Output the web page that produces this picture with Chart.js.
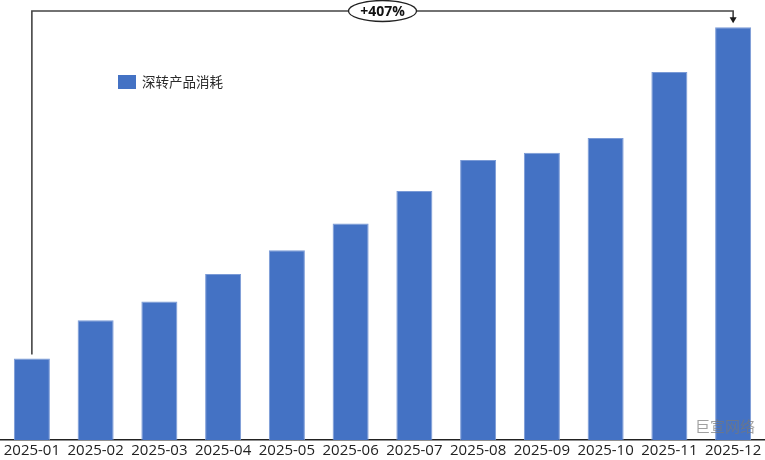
<!DOCTYPE html>
<html>
<head>
<meta charset="utf-8">
<script src="https://cdn.jsdelivr.net/npm/chart.js@4.4.1/dist/chart.umd.min.js"></script>
<style>
  html, body { margin: 0; padding: 0; background: #ffffff; }
  #wrap { width: 765px; height: 460px; position: relative; }
</style>
</head>
<body>
<div id="wrap"><canvas id="c" width="765" height="460"></canvas></div>
<script>
const categories = ['2025-01','2025-02','2025-03','2025-04','2025-05','2025-06','2025-07','2025-08','2025-09','2025-10','2025-11','2025-12'];
const seriesName = '深转产品消耗';
const seriesValues = [100, 147, 170, 204, 233, 266, 306, 344, 353, 371, 452, 507];
const growthLabel = '+407%';
const watermarkText = '巨宣网络';

const annotationPlugin = {
  id: 'annot',
  afterDatasetsDraw(chart) {
    const ctx = chart.ctx;
    const xs = chart.scales.x, ys = chart.scales.y;
    const n = seriesValues.length;
    const x0 = xs.getPixelForValue(0);
    const x1 = xs.getPixelForValue(n - 1);
    const y0 = ys.getPixelForValue(seriesValues[0]);
    const y1 = ys.getPixelForValue(seriesValues[n - 1]);
    const topY = 11;
    ctx.save();
    ctx.strokeStyle = '#444';
    ctx.lineWidth = 1.6;
    ctx.beginPath();
    ctx.moveTo(x0, y0 - 4);
    ctx.lineTo(x0, topY);
    ctx.lineTo(x1, topY);
    ctx.lineTo(x1, y1 - 7);
    ctx.stroke();
    // arrow head
    ctx.fillStyle = '#1a1a1a';
    ctx.beginPath();
    ctx.moveTo(x1 - 3.5, y1 - 10);
    ctx.lineTo(x1 + 3.5, y1 - 10);
    ctx.lineTo(x1, y1 - 4);
    ctx.closePath();
    ctx.fill();
    // label ellipse
    const cx = (x0 + x1) / 2;
    ctx.fillStyle = '#ffffff';
    ctx.beginPath();
    ctx.ellipse(cx, topY, 34, 10.5, 0, 0, Math.PI * 2);
    ctx.fill();
    ctx.lineWidth = 1.3;
    ctx.strokeStyle = '#222';
    ctx.stroke();
    ctx.fillStyle = '#111';
    ctx.font = 'bold 14px "Open Sans", "Liberation Sans", sans-serif';
    ctx.textAlign = 'center';
    ctx.textBaseline = 'middle';
    ctx.fillText(growthLabel, cx, topY + 1);

    // legend
    const ds = chart.data.datasets[0];
    ctx.fillStyle = ds.backgroundColor;
    ctx.fillRect(118, 75, 18, 14);
    ctx.fillStyle = '#2a2a2a';
    ctx.font = '13.5px "Noto Sans CJK SC", sans-serif';
    ctx.textAlign = 'left';
    ctx.textBaseline = 'middle';
    ctx.fillText(ds.label, 142, 82);

    // watermark
    ctx.fillStyle = 'rgba(120,120,120,0.7)';
    ctx.font = '15px "Noto Sans CJK SC", sans-serif';
    ctx.textAlign = 'left';
    ctx.fillText(watermarkText, 695, 426);
    ctx.restore();
  }
};

new Chart(document.getElementById('c'), {
  type: 'bar',
  data: {
    labels: categories,
    datasets: [{
      label: seriesName,
      data: seriesValues,
      backgroundColor: '#4472C4',
      borderColor: '#7A9AD6',
      borderWidth: {top: 1, left: 1, right: 1, bottom: 0},
      categoryPercentage: 1.0,
      barPercentage: 0.565
    }]
  },
  options: {
    responsive: false,
    animation: false,
    events: [],
    layout: { padding: 0 },
    plugins: { legend: { display: false }, tooltip: { enabled: false }, title: { display: false } },
    scales: {
      x: {
        grid: { display: false, drawTicks: false },
        border: { display: true, color: '#222', width: 1.5 },
        ticks: { color: '#222', font: { family: '"Open Sans", sans-serif', size: 15 }, padding: 2, maxRotation: 0, autoSkip: false },
        afterFit(scale) { scale.height = 20; }
      },
      y: {
        display: false,
        min: 0,
        max: 540.5
      }
    }
  },
  plugins: [annotationPlugin]
});
</script>
</body>
</html>
